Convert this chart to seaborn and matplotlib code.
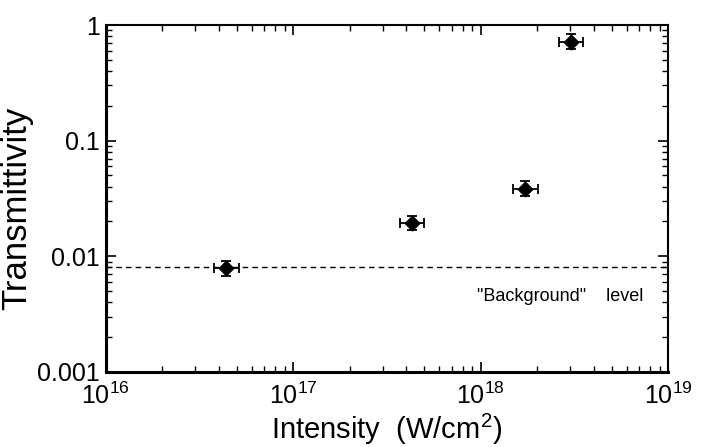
import numpy as np
import pandas as pd
import matplotlib
matplotlib.use("Agg")
import matplotlib.pyplot as plt
import seaborn as sns
from matplotlib.ticker import LogLocator, FixedLocator, FixedFormatter, NullFormatter

# ─── DATA ─────────────────────────────────────────────────
intensity = [4.4e16, 4.3e17, 1.73e18, 3.03e18]      # W/cm^2
transmittivity = [0.0079, 0.0194, 0.0384, 0.72]
rel_err = 0.16                                        # relative error, both axes
background = 0.008

x_ticks = [1e16, 1e17, 1e18, 1e19]
x_labels = ["$10^{16}$", "$10^{17}$", "$10^{18}$", "$10^{19}$"]
y_ticks = [0.001, 0.01, 0.1, 1]
y_labels = ["0.001", "0.01", "0.1", "1"]

df = pd.DataFrame({"intensity": intensity, "transmittivity": transmittivity})

# ─── STYLE ────────────────────────────────────────────────
sns.set_style("ticks")
plt.rcParams["font.family"] = ["Liberation Sans", "DejaVu Sans"]
plt.rcParams["mathtext.fontset"] = "custom"
plt.rcParams["mathtext.rm"] = "Liberation Sans"
plt.rcParams["mathtext.it"] = "Liberation Sans"
plt.rcParams["text.color"] = "black"
plt.rcParams["axes.labelcolor"] = "black"
plt.rcParams["xtick.color"] = "black"
plt.rcParams["ytick.color"] = "black"
plt.rcParams["axes.edgecolor"] = "black"

fig = plt.figure(figsize=(7.05, 4.47), dpi=100)
ax = fig.add_axes([0.150, 0.168, 0.798, 0.776])

# error bars first, then markers
x = np.array(intensity)
y = np.array(transmittivity)
ax.errorbar(x, y,
            xerr=[x - x / (1 + rel_err), x * rel_err],
            yerr=[y - y / (1 + rel_err), y * rel_err],
            fmt="none", ecolor="black", elinewidth=1.3, capsize=3.5, capthick=1.3)
sns.scatterplot(data=df, x="intensity", y="transmittivity", marker="D",
                s=60, color="black", edgecolor="black", ax=ax, zorder=3)

ax.axhline(background, color="black", lw=1.0, ls=(0, (4, 3)))
ax.text(2.65e18, 0.0045, '"Background"    level', ha="center", va="center",
        fontsize=13)

ax.set_xscale("log")
ax.set_yscale("log")
ax.set_xlim(1e16, 1e19)
ax.set_ylim(1e-3, 1)

ax.xaxis.set_major_locator(FixedLocator(x_ticks))
ax.xaxis.set_major_formatter(FixedFormatter(x_labels))
ax.yaxis.set_major_locator(FixedLocator(y_ticks))
ax.yaxis.set_major_formatter(FixedFormatter(y_labels))
ax.xaxis.set_minor_locator(LogLocator(base=10, subs=np.arange(2, 10)))
ax.yaxis.set_minor_locator(LogLocator(base=10, subs=np.arange(2, 10)))
ax.xaxis.set_minor_formatter(NullFormatter())
ax.yaxis.set_minor_formatter(NullFormatter())

ax.tick_params(which="both", direction="in", top=True, right=True)
ax.tick_params(which="major", length=7, width=1.2, labelsize=18)
ax.tick_params(axis="x", which="major", pad=8)
ax.tick_params(axis="y", which="major", pad=4)
ax.tick_params(which="minor", length=4, width=1.0)

for side in ["left", "bottom"]:
    ax.spines[side].set_linewidth(2.2)
for side in ["top", "right"]:
    ax.spines[side].set_linewidth(1.5)

ax.set_xlabel("Intensity  (W/cm$^2$)", fontsize=21, labelpad=2)
ax.set_ylabel("Transmittivity", fontsize=25)
ax.yaxis.set_label_coords(-0.128, 0.47)

fig.savefig("out.png", dpi=100)
